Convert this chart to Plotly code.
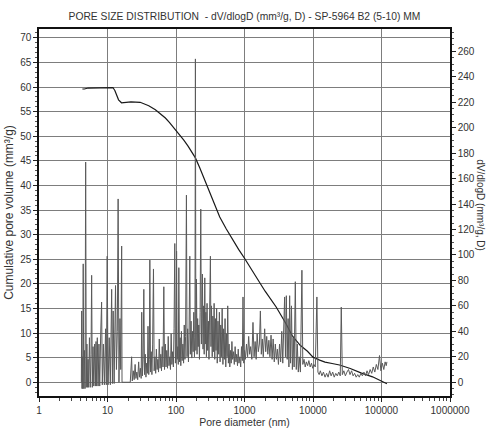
import plotly.graph_objects as go

# ---------------- data ----------------
cum_diameter_nm = [4.3, 4.6, 5.2, 6, 8, 10, 12, 12.8, 13.6, 14.5, 16, 18, 22, 30, 35, 40,
                   50, 58, 70, 80, 100, 114, 130, 150, 170, 192, 222, 260, 300, 360, 435, 540,
                   670, 820, 1000, 1250, 1500, 2000, 2900, 4000, 5000, 6500, 8300, 10000,
                   12500, 15000, 19000, 24400, 35000, 50000, 74000, 100000, 120000]
cum_volume = [59.6, 59.6, 59.8, 59.8, 59.9, 59.9, 59.9, 59.3, 58.2, 57.4, 56.8, 56.9, 57.0,
              56.9, 56.6, 56.2, 55.4, 54.7, 53.7, 52.8, 51.2, 50.2, 49.2, 48.0, 46.9, 45.6,
              43.6, 41.3, 39.0, 36.3, 33.6, 31.2, 28.9, 27.0, 25.2, 23.1, 21.3, 18.5, 15.3,
              12.0, 9.4, 7.5, 6.3, 5.1, 4.5, 4.1, 3.8, 3.5, 2.8, 1.9, 1.1, 0.3, -0.3]

dv_points = [
    (4.15, 0), (4.2, 56), (4.25, -5), (4.3, 20), (4.35, -5), (4.42, 93), (4.5, -5), (4.6, 25),
    (4.7, -5), (4.8, 173), (4.9, -4), (5.0, 30), (5.1, -4), (5.2, 18), (5.3, -4), (5.45, 35),
    (5.6, -4), (5.75, 22), (5.87, 84), (6.0, -4), (6.15, 28), (6.3, -3), (6.5, 30), (6.65, -3),
    (6.8, 32), (6.95, -3), (7.1, 35), (7.3, -3), (7.5, 30), (7.7, -3), (7.95, 38), (8.2, 63),
    (8.4, -2), (8.7, 30), (9.0, -2), (9.38, 42), (9.6, -2), (9.9, 99), (10.2, -2), (10.6, 35),
    (11.0, -2), (11.5, 73), (11.8, -1), (12.1, 56), (12.5, -1), (13.1, 76), (13.5, 10),
    (13.9, 40), (14.3, 144), (14.7, 0), (15.2, 50), (15.6, 10), (16.1, 107), (16.3, 0),
    (18, 0), (20, 0), (21.5, 0), (22.5, 20), (23, 1), (23.8, 9), (24.5, 2), (25.3, 14),
    (26, 3), (26.8, 8), (27.6, 2), (28.5, 16), (29.3, 4), (30.2, 11), (31, 3), (31.6, 55),
    (32.3, 5), (33.1, 18), (33.9, 73), (34.7, 6), (35.6, 22), (36.4, 4), (37.3, 15), (38.2, 7),
    (39, 44), (40, 6), (40.8, 18), (41.5, 96), (42.5, 8), (43.5, 24), (44.5, 6), (45.6, 30),
    (46.9, 89), (48, 9), (49.2, 20), (50.5, 7), (51.7, 26), (53, 10), (54.3, 18), (55.6, 8),
    (57, 34), (58.5, 11), (60, 22), (61.4, 9), (63, 28), (64.6, 12), (66.4, 75), (68, 10),
    (69.8, 30), (71.5, 12), (73.3, 25), (75.2, 11), (77, 36), (79, 13), (81, 20), (83, 10),
    (85, 38), (87, 14), (89.2, 24), (91.5, 12), (93.7, 42), (96, 109), (98, 15), (100, 30),
    (102, 103), (104, 18), (106.5, 28), (108, 14), (110, 90), (112.5, 16), (115, 35),
    (117.5, 13), (120, 40), (123, 17), (126, 30), (129, 15), (132, 45), (135, 18), (138, 36),
    (142, 147), (145, 20), (148, 42), (152, 16), (155, 38), (159, 99), (162, 22), (166, 48),
    (170, 19), (174, 40), (178, 24), (182, 55), (186, 20), (189, 35), (192, 254), (195, 25),
    (199, 81), (203, 22), (207, 50), (211, 28), (215, 45), (220, 18), (225, 55), (230, 136),
    (235, 30), (239, 50), (243, 85), (248, 26), (253, 60), (258, 22), (263, 82), (268, 30),
    (273, 55), (278, 20), (284, 62), (290, 25), (297, 48), (303, 18), (310, 58), (318, 99),
    (324, 28), (330, 60), (338, 20), (345, 52), (352, 24), (360, 62), (368, 18), (376, 50),
    (384, 25), (392, 58), (400, 15), (410, 48), (420, 22), (430, 55), (440, 16), (450, 45),
    (460, 20), (472, 58), (484, 14), (496, 42), (508, 18), (520, 50), (533, 12), (546, 38),
    (558, 20), (569, 60), (582, 15), (596, 30), (610, 12), (625, 25), (640, 15), (655, 32),
    (670, 18), (690, 24), (710, 14), (730, 28), (750, 16), (770, 22), (790, 13), (810, 26),
    (830, 15), (855, 20), (880, 12), (905, 28), (930, 17), (951, 67), (975, 15),
    (1000, 25), (1030, 18), (1070, 30), (1110, 20), (1150, 36), (1190, 22), (1230, 28),
    (1280, 18), (1330, 47), (1380, 20), (1430, 32), (1480, 18), (1530, 38), (1590, 24),
    (1650, 30), (1706, 56), (1760, 22), (1820, 34), (1880, 20), (1970, 42), (2040, 24),
    (2110, 36), (2190, 22), (2270, 33), (2350, 20), (2440, 37), (2530, 18), (2620, 34),
    (2720, 16), (2820, 30), (2920, 18), (3020, 26), (3130, 14), (3250, 30), (3370, 16),
    (3500, 40), (3620, 15), (3750, 45), (3855, 67), (3960, 20), (4080, 68), (4200, 18),
    (4330, 50), (4450, 12), (4561, 68), (4700, 15), (4850, 60), (5000, 10), (5150, 35),
    (5300, 12), (5520, 79), (5700, 10), (5900, 30), (6100, 8), (6300, 20), (6550, 8),
    (6890, 88), (7100, 14), (7400, 18), (7700, 12), (8000, 16), (8350, 13), (8700, 17),
    (9100, 12), (9500, 15), (9900, 11), (10300, 14), (10800, 12), (11400, 67), (11800, 8),
    (12300, 6), (12800, 9), (13500, 5), (14200, 8), (15000, 4), (15800, 7), (16600, 4),
    (17500, 9), (18400, 5), (19400, 8), (20400, 4), (21500, 7), (22600, 5), (23800, 8),
    (25000, 5), (25870, 59), (26800, 6), (28200, 9), (29700, 5), (31300, 8), (33000, 10),
    (34700, 6), (36600, 9), (38500, 5), (40500, 7), (42700, 4), (45000, 6), (47400, 4),
    (50000, 7), (52600, 5), (55400, 8), (58400, 5), (61500, 9), (64800, 6), (68300, 10),
    (72000, 7), (75800, 12), (79900, 8), (84100, 14), (88600, 10), (93500, 21), (98000, 9),
    (103000, 15), (108000, 10), (113000, 16), (117200, 13), (120000, 16),
]
dv_diameter_nm = [p[0] for p in dv_points]
dv_value = [p[1] for p in dv_points]

x_tick_values = [1, 10, 100, 1000, 10000, 100000, 1000000]
x_tick_labels = ["1", "10", "100", "1000", "10000", "100000", "1000000"]
x_minor_values = [m * d for d in [1, 10, 100, 1000, 10000, 100000] for m in range(2, 10)]

title_text = "PORE SIZE DISTRIBUTION  - dV/dlogD (mm³/g, D) - SP-5964 B2 (5-10) MM"
left_title = "Cumulative pore volume (mm³/g)"
right_title = "dV/dlogD (mm³/g, D)"
x_title = "Pore diameter (nm)"

# ---------------- figure ----------------
FONT = "Liberation Sans, Arial, sans-serif"
TXT = "#333333"
GRID = "#7d7d7d"

fig = go.Figure()
fig.add_trace(go.Scatter(x=dv_diameter_nm, y=dv_value, yaxis="y2", mode="lines",
                         line=dict(color="rgb(90,90,90)", width=1), showlegend=False))
fig.add_trace(go.Scatter(x=cum_diameter_nm, y=cum_volume, yaxis="y", mode="lines",
                         line=dict(color="rgb(25,25,25)", width=1.2),
                         showlegend=False))

fig.update_layout(
    width=487, height=428,
    margin=dict(l=39, r=37, t=29, b=32, autoexpand=False),
    paper_bgcolor="white", plot_bgcolor="white",
    font=dict(family=FONT, size=10, color=TXT),
    title=dict(text=title_text, x=0.5, xref="paper", y=1 - 16 / 428, yref="container",
               xanchor="center", yanchor="middle", font=dict(size=10.3, color=TXT)),
    xaxis=dict(type="log", range=[0, 6], tickmode="array", tickvals=x_tick_values,
               ticktext=x_tick_labels, ticks="outside", ticklen=4, tickcolor="#222",
               showgrid=True, gridcolor=GRID, gridwidth=1.3, automargin=False,
               showline=True, linecolor="#111", linewidth=1.5, mirror=True,
               minor=dict(tickvals=x_minor_values, ticks="outside", ticklen=3,
                          tickcolor="#444", showgrid=False),
               title=dict(text=x_title, standoff=2, font=dict(size=10.5, color=TXT)),
               zeroline=False),
    yaxis=dict(range=[-2.8, 71.8], tickmode="linear", tick0=0, dtick=5,
               ticks="outside", ticklen=4, tickcolor="#222", automargin=False,
               showgrid=True, gridcolor=GRID, gridwidth=1.3, zeroline=False,
               showline=True, linecolor="#111", linewidth=1.5,
               minor=dict(dtick=1, ticks="outside", ticklen=2, tickcolor="#555", showgrid=False),
               title=dict(text=left_title, standoff=4, font=dict(size=12, color=TXT))),
    yaxis2=dict(range=[-10.8, 277.5], overlaying="y", side="right", tickmode="linear",
                tick0=0, dtick=20, ticks="outside", ticklen=4, tickcolor="#222",
                showgrid=False, zeroline=False, automargin=False,
                showline=True, linecolor="#111", linewidth=1.5,
                minor=dict(dtick=5, ticks="outside", ticklen=2, tickcolor="#555")),
    annotations=[dict(text=right_title, x=(481 - 39) / 411, y=0.52, xref="paper", yref="paper",
                      textangle=90, showarrow=False, font=dict(size=10, color=TXT),
                      xanchor="center", yanchor="middle")],
)

fig.write_html("out.html")
